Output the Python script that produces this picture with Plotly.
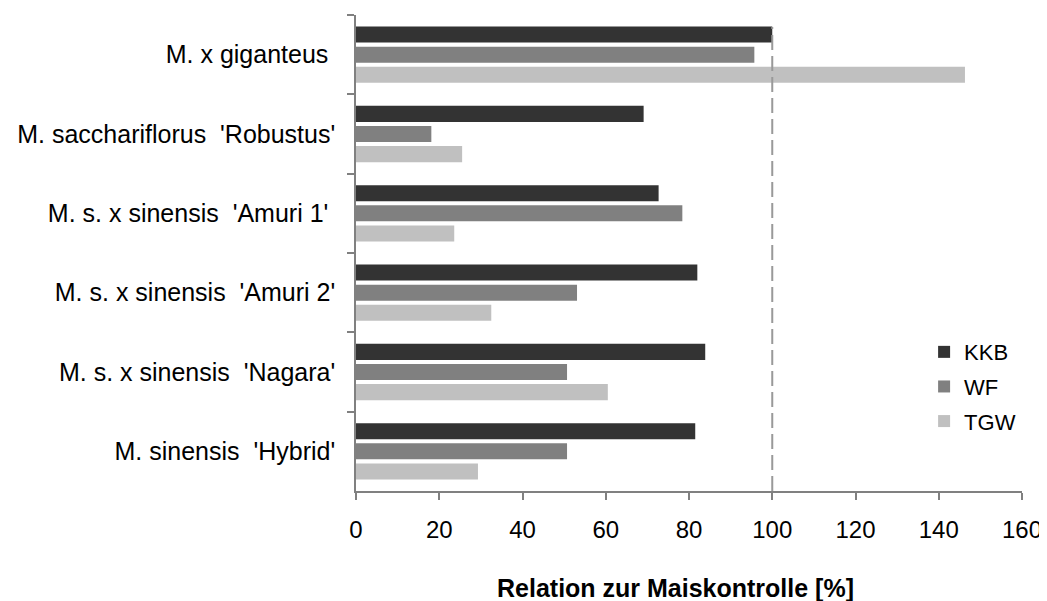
import plotly.graph_objects as go

NB = "\u00a0"
categories = [
    "M. x giganteus" + NB,
    "M. sacchariflorus" + NB * 2 + "'Robustus'",
    "M. s. x sinensis" + NB * 2 + "'Amuri 1'" + NB,
    "M. s. x sinensis" + NB * 2 + "'Amuri 2'",
    "M. s. x sinensis" + NB * 2 + "'Nagara'",
    "M. sinensis" + NB * 2 + "'Hybrid'",
]
series_names = ["KKB", "WF", "TGW"]
kkb = [100.0, 69.1, 72.7, 82.0, 83.9, 81.5]
wf = [95.7, 18.1, 78.4, 53.1, 50.7, 50.7]
tgw = [146.3, 25.5, 23.6, 32.5, 60.5, 29.3]
series_values = [kkb, wf, tgw]
colors = ["#333333", "#808080", "#c0c0c0"]
reference_value = 100
x_ticks = [0, 20, 40, 60, 80, 100, 120, 140, 160]

fig = go.Figure()
for name, vals, col in zip(series_names, series_values, colors):
    fig.add_trace(go.Bar(
        y=categories, x=vals, name=name, orientation="h",
        marker=dict(color=col, line=dict(width=0)),
        legendgroup=name,
    ))

fig.add_shape(
    type="line", xref="x", yref="paper",
    x0=reference_value, x1=reference_value, y0=0, y1=0.975,
    line=dict(color="#999999", width=2, dash="15px,6px"),
    layer="above",
)

fig.update_layout(
    width=1039, height=593,
    margin=dict(l=348, r=25, t=7, b=110, autoexpand=False),
    paper_bgcolor="white", plot_bgcolor="white",
    barmode="group", bargap=0.24, bargroupgap=0.2,
    font=dict(family="Liberation Sans, Arial, sans-serif", size=24, color="black"),
    legend=dict(
        x=0.853, y=0.336, xanchor="left", yanchor="top",
        font=dict(size=22), tracegroupgap=3, bgcolor="rgba(0,0,0,0)",
    ),
    xaxis=dict(
        range=[0, 160], tickvals=x_ticks, ticktext=[str(v) for v in x_ticks],
        showgrid=False, zeroline=False, automargin=False,
        showline=True, linecolor="#808080", linewidth=1.5,
        ticks="outside", ticklen=7, tickcolor="#808080", tickwidth=1.5,
        ticklabelstandoff=9,
        tickfont=dict(size=24),
    ),
    yaxis=dict(
        range=[5.5, -0.5], type="category", automargin=False,
        showgrid=False, zeroline=False,
        showline=True, linecolor="#808080", linewidth=1.5,
        ticks="outside", ticklen=7, tickcolor="#808080", tickwidth=1.5,
        tickson="boundaries", ticklabelstandoff=14,
        tickfont=dict(size=25),
    ),
    annotations=[dict(
        text="<b>Relation zur Maiskontrolle [%]</b>",
        xref="paper", yref="paper", x=0.48, y=-0.204,
        xanchor="center", yanchor="middle", showarrow=False,
        font=dict(size=25, color="black"),
    )],
)

fig.write_html("out.html")
